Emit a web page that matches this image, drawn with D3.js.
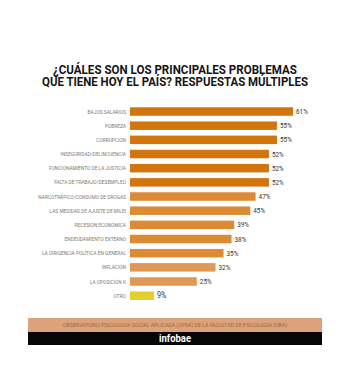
<!DOCTYPE html>
<html>
<head>
<meta charset="utf-8">
<script src="https://cdn.jsdelivr.net/npm/d3@7"></script>
<style>
  html, body { margin: 0; padding: 0; background: #fff; }
  svg { display: block; }
</style>
</head>
<body>
<div id="chart"></div>
<script>
// data
const categories = [
  "BAJOS SALARIOS",
  "POBREZA",
  "CORRUPCIÓN",
  "INSEGURIDAD/DELINCUENCIA",
  "FUNCIONAMIENTO DE LA JUSTICIA",
  "FALTA DE TRABAJO/DESEMPLEO",
  "NARCOTRÁFICO/CONSUMO DE DROGAS",
  "LAS MEDIDAS DE AJUSTE DE MILEI",
  "RECESIÓN ECONÓMICA",
  "ENDEUDAMIENTO EXTERNO",
  "LA DIRIGENCIA POLÍTICA EN GENERAL",
  "INFLACIÓN",
  "LA OPOSICIÓN K",
  "OTRO",
];
const values = [61, 55, 55, 52, 52, 52, 47, 45, 39, 38, 35, 32, 25, 9];

const titleLines = [
  "¿CUÁLES SON LOS PRINCIPALES PROBLEMAS",
  "QUE TIENE HOY EL PAÍS? RESPUESTAS MÚLTIPLES",
];
const sourceText =
  "OBSERVATORIO PSICOLOGÍA SOCIAL APLICADA (OPSA) DE LA FACULTAD DE PSICOLOGÍA (UBA)";

const width = 350,
  height = 372;

const svg = d3
  .select("#chart")
  .append("svg")
  .attr("width", width)
  .attr("height", height)
  .style("font-family", "Roboto, 'Liberation Sans', sans-serif");

// title, squeezed to look condensed
const titleWidths = [244, 266];
svg
  .selectAll(".title")
  .data(titleLines)
  .join("text")
  .attr("class", "title")
  .attr("x", width / 2)
  .attr("y", (d, i) => 74 + i * 12)
  .attr("text-anchor", "middle")
  .attr("textLength", (d, i) => titleWidths[i])
  .attr("lengthAdjust", "spacingAndGlyphs")
  .style("font-size", "12px")
  .style("font-weight", "bold")
  .style("fill", "#151515")
  .text((d) => d);

const xScale = d3.scaleLinear().domain([0, 61]).range([130, 293]);

const yScale = d3
  .scaleBand()
  .domain(categories)
  .range([101.6, 305.6])
  .padding(0.4);

// colour tiers follow the value (OTRO is yellow)
const colour = d3
  .scaleThreshold()
  .domain([34, 50])
  .range(["#e09955", "#dc8a33", "#d2750f"]);

const rows = categories.map((c, i) => ({ cat: c, value: values[i] }));

svg
  .selectAll(".bar")
  .data(rows)
  .join("rect")
  .attr("class", "bar")
  .attr("x", xScale(0))
  .attr("y", (d) => yScale(d.cat))
  .attr("width", (d) => xScale(d.value) - xScale(0))
  .attr("height", yScale.bandwidth())
  .attr("fill", (d) => (d.cat === "OTRO" ? "#e2cf2e" : colour(d.value)));

// category labels (condensed by horizontal scale)
svg
  .selectAll(".cat")
  .data(rows)
  .join("text")
  .attr("class", "cat")
  .attr(
    "transform",
    (d) =>
      `translate(126, ${yScale(d.cat) + yScale.bandwidth() / 2 + 2}) scale(0.86, 1)`
  )
  .attr("text-anchor", "end")
  .style("font-size", "5.6px")
  .style("fill", "#7a7a7a")
  .text((d) => d.cat);

// value labels
svg
  .selectAll(".val")
  .data(rows)
  .join("text")
  .attr("class", "val")
  .attr(
    "transform",
    (d) =>
      `translate(${xScale(d.value) + 3}, ${yScale(d.cat) + yScale.bandwidth() / 2 + 2.6}) scale(0.85, 1)`
  )
  .style("font-size", (d) => (d.cat === "OTRO" ? "8.5px" : "7.5px"))
  .style("fill", "#333")
  .text((d) => d.value + "%");

// footer
svg
  .append("rect")
  .attr("x", 28)
  .attr("y", 318)
  .attr("width", 294)
  .attr("height", 14)
  .attr("fill", "#dca27a");

svg
  .append("text")
  .attr("x", width / 2)
  .attr("y", 326.8)
  .attr("text-anchor", "middle")
  .attr("textLength", 224)
  .attr("lengthAdjust", "spacingAndGlyphs")
  .style("font-size", "5px")
  .style("fill", "#9a6a45")
  .text(sourceText);

svg
  .append("rect")
  .attr("x", 28)
  .attr("y", 332)
  .attr("width", 294)
  .attr("height", 13)
  .attr("fill", "#060606");

svg
  .append("text")
  .attr("x", width / 2)
  .attr("y", 341.5)
  .attr("text-anchor", "middle")
  .attr("textLength", 32)
  .attr("lengthAdjust", "spacingAndGlyphs")
  .style("font-size", "10.5px")
  .style("font-weight", "bold")
  .style("fill", "#fff")
  .text("infobae");
</script>
</body>
</html>
